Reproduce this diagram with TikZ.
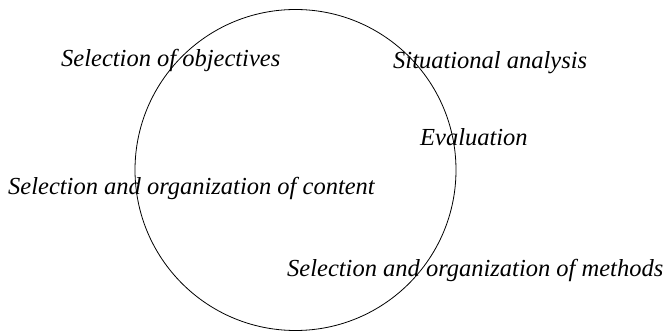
\documentclass[tikz,border=0pt]{standalone}
\usepackage{fontspec}
\setmainfont{Liberation Serif}
\usepackage{tikz}

\begin{document}
\begin{tikzpicture}[
        x=1pt, y=1pt,
        font=\itshape\fontsize{24.5}{28}\selectfont,
        ring/.style={
            circle,
            draw=black,
            line width=0.8pt,
            minimum size=321pt,
            inner sep=0pt
        },
        stage/.style={
            anchor=base west,
            inner sep=0pt,
            text=black
        }
    ]

    \useasboundingbox (0,0) rectangle (665,332);

    \node[ring] (cycle) at (295.5,162) {};

    \node[stage] (objectives) at (61,265) {Selection of objectives};
    \node[stage] (situation) at (393,263) {Situational analysis};
    \node[stage] (evaluation) at (420,186) {Evaluation};
    \node[stage] (content) at (8,137) {Selection and organization of content};
    \node[stage] (methods) at (287,55) {Selection and organization of methods};

    \end{tikzpicture}
\end{document}
